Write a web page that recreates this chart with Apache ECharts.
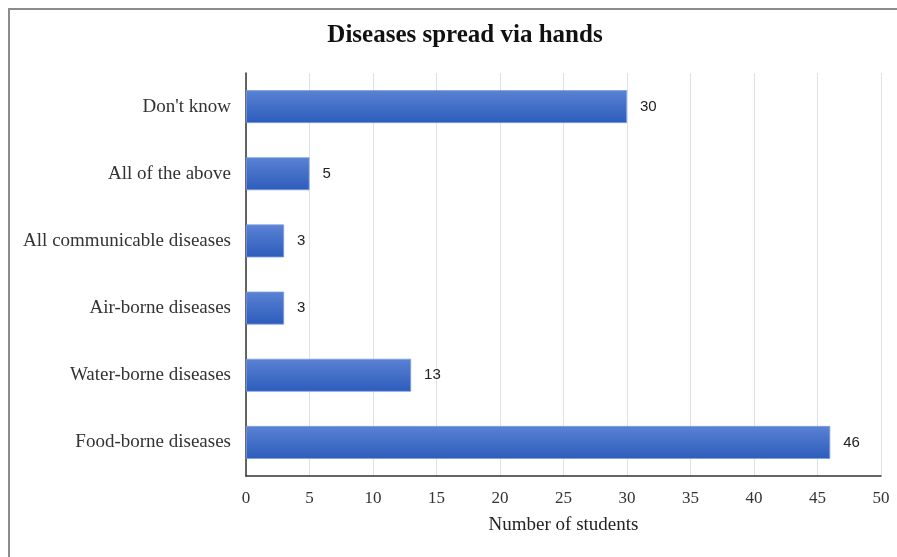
<!DOCTYPE html>
<html>
<head>
<meta charset="utf-8">
<script src="https://cdn.jsdelivr.net/npm/echarts@6/dist/echarts.min.js"></script>
<style>
  html, body { margin: 0; padding: 0; background: #fff; }
  #chart { width: 897px; height: 557px; }
</style>
</head>
<body>
<div id="chart"></div>
<script>
// Answers, listed from the bottom of the axis to the top
const categories = [
  'Food-borne diseases',
  'Water-borne diseases',
  'Air-borne diseases',
  'All communicable diseases',
  'All of the above',
  "Don't know"
];
const students = [46, 13, 3, 3, 5, 30];
const xTicks = { min: 0, max: 50, interval: 5 };

const serif = '"Liberation Serif", "Times New Roman", serif';
const sans = '"Liberation Sans", Arial, sans-serif';

const chart = echarts.init(document.getElementById('chart'), null, { renderer: 'canvas' });
chart.setOption({
  backgroundColor: '#ffffff',
  animation: false,
  title: {
    text: 'Diseases spread via hands',
    left: 460,
    textAlign: 'center',
    top: 18,
    textStyle: { fontFamily: serif, fontSize: 25, fontWeight: 'bold', color: '#111' }
  },
  graphic: [{
    type: 'rect',
    shape: { x: 9, y: 9, width: 900, height: 560 },
    style: { fill: 'none', stroke: '#8c8c8c', lineWidth: 2 },
    silent: true
  }],
  grid: { left: 246, right: 16, top: 73, bottom: 81 },
  xAxis: {
    type: 'value',
    min: xTicks.min,
    max: xTicks.max,
    interval: xTicks.interval,
    name: 'Number of students',
    nameLocation: 'middle',
    nameGap: 40,
    nameTextStyle: { fontFamily: serif, fontSize: 19, color: '#222' },
    axisLine: { show: true, lineStyle: { color: '#333', width: 1.5 } },
    axisTick: { show: false },
    axisLabel: { fontFamily: serif, fontSize: 17, color: '#333', margin: 14 },
    splitLine: { show: true, lineStyle: { color: '#dde2ea', width: 1 } }
  },
  yAxis: {
    type: 'category',
    data: categories,
    axisLine: { show: true, lineStyle: { color: '#333', width: 1.5 } },
    axisTick: { show: false },
    axisLabel: { fontFamily: serif, fontSize: 19, color: '#333', margin: 15 },
    splitLine: { show: false }
  },
  series: [{
    type: 'bar',
    data: students,
    barWidth: '49%',
    itemStyle: {
      color: new echarts.graphic.LinearGradient(0, 0, 0, 1, [
        { offset: 0, color: '#5b82d4' },
        { offset: 1, color: '#2c5cbb' }
      ]),
      borderColor: '#7c9ee0',
      borderWidth: 0.8
    },
    label: {
      show: true,
      position: 'right',
      distance: 13,
      fontFamily: sans,
      fontSize: 15,
      color: '#222'
    }
  }]
});
</script>
</body>
</html>
